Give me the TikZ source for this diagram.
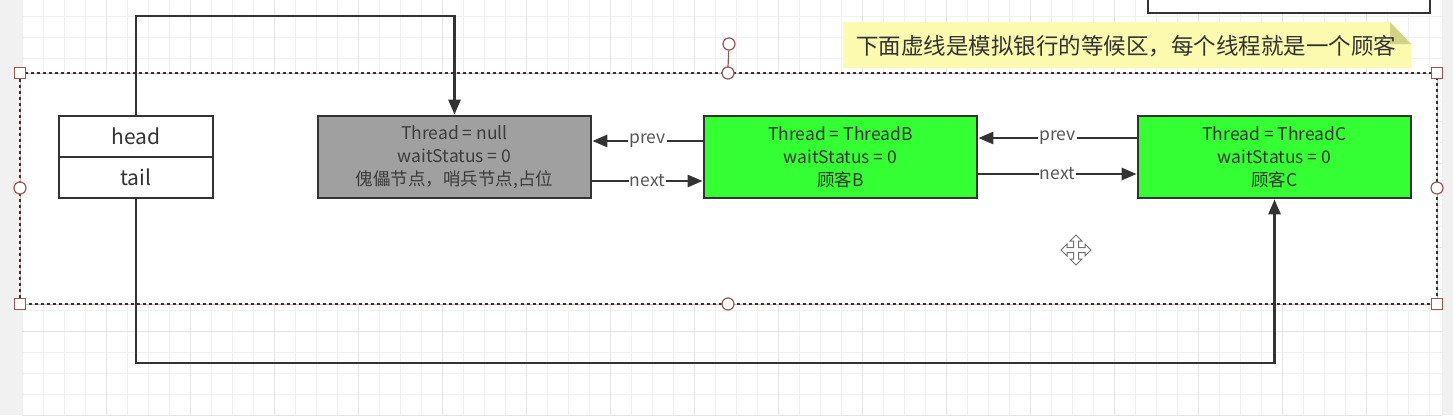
\documentclass[tikz,border=0pt]{standalone}
\usepackage{fontspec}
\setmainfont{Noto Sans CJK SC}
\usetikzlibrary{arrows.meta}

\definecolor{ink}{HTML}{333333}
\definecolor{dummygray}{HTML}{A0A0A0}
\definecolor{dummytext}{HTML}{3C3C3C}
\definecolor{custgreen}{HTML}{33FF33}
\definecolor{lblgray}{HTML}{555555}
\definecolor{handle}{HTML}{9B5555}
\definecolor{notefill}{HTML}{FBFAAF}
\definecolor{notefold}{HTML}{D3D385}
\definecolor{sidegray}{HTML}{F1F1F1}
\definecolor{gridminor}{HTML}{F0F0F0}
\definecolor{gridmajor}{HTML}{E4E4E4}

\begin{document}
\begin{tikzpicture}[x=1pt, y=-1pt,
		box/.style = {rectangle, draw=ink, fill=white, line width=2.8pt, minimum width=154pt, minimum height=41pt, inner sep=0pt, text=ink, font=\fontsize{21}{21}\selectfont},
		qnode/.style = {rectangle, draw=ink, line width=2.8pt, minimum width=273pt, minimum height=82pt, inner sep=0pt, align=center, font=\fontsize{17.5}{23}\selectfont},
		dummy/.style = {qnode, fill=dummygray, text=dummytext},
		cust/.style = {qnode, fill=custgreen, text=ink},
		link/.style = {-{Triangle[length=15pt, width=12pt]}, draw=ink, line width=2.8pt},
		lbl/.style = {fill=white, inner sep=1pt, text=lblgray, font=\fontsize{17.5}{17.5}\selectfont},
		sqh/.style = {rectangle, draw=handle, fill=white, line width=1.2pt, minimum size=11pt, inner sep=0pt},
		cih/.style = {circle, draw=handle, fill=white, line width=1.2pt, minimum size=12pt, inner sep=0pt},
		]
		
		%Canvas
		\useasboundingbox (0,0) rectangle (1453,415);
		\fill[white] (0,0) rectangle (1453,415);
		\fill[sidegray] (0,0) rectangle (22,415);
		\fill[sidegray] (1442,0) rectangle (1453,415);
		\begin{scope}
			\clip (22.5,0) rectangle (1442,415);
			\foreach \gx in {0,...,67} \draw[gridminor, line width=1.5pt] ({22.7+21*\gx},0) -- ({22.7+21*\gx},415);
			\foreach \gy in {0,...,20} \draw[gridminor, line width=1.5pt] (0,{-4.3+21*\gy}) -- (1453,{-4.3+21*\gy});
			\foreach \gx in {0,...,17} \draw[gridmajor, line width=1.5pt] ({22.7+84*\gx},0) -- ({22.7+84*\gx},415);
			\foreach \gy in {0,...,5} \draw[gridmajor, line width=1.5pt] (0,{-4.3+84*\gy}) -- (1453,{-4.3+84*\gy});
		\end{scope}
		
		%Waiting area
		\fill[white] (20,73) rectangle (1437,304);
		\draw[handle!45, line width=0.8pt] (20,73) rectangle (1437,304);
		\draw[ink, line width=2.6pt, dash pattern=on 2.6pt off 3.4pt] (20,73) rectangle (1437,304);
		\node[cih]	(rot)	at	(729,44)	{};
		\draw[handle, line width=1.2pt] (rot) -- (728,67);
		\node[sqh]	at	(20,73)		{};
		\node[sqh]	at	(1437,73)	{};
		\node[sqh]	at	(20,304)	{};
		\node[sqh]	at	(1437,304)	{};
		\node[cih]	at	(728,73)	{};
		\node[cih]	at	(728,304)	{};
		\node[cih]	at	(20,188)	{};
		\node[cih]	at	(1437,188)	{};
		
		%Other shapes
		\draw[ink, fill=white, line width=2.8pt] (1148,-5) rectangle (1430,13);
		\fill[notefill] (843,22) -- (1390,22) -- (1411,44) -- (1411,68) -- (843,68) -- cycle;
		\fill[notefold] (1390,22) -- (1411,44) -- (1390,44) -- cycle;
		\node[text=ink, font=\fontsize{22.5}{22.5}\selectfont]	(note)	at	(1126,46)	{下面虚线是模拟银行的等候区，每个线程就是一个顾客};
		\draw[ink!70, line width=1pt, shift={(1076,250)}]
			(2.5,-9) -- (6,-9) -- (0,-15) -- (-6,-9) -- (-2.5,-9) -- (-2.5,-2.5) -- (-9,-2.5) -- (-9,-6) -- (-15,0) -- (-9,6) -- (-9,2.5) -- (-2.5,2.5)
			-- (-2.5,9) -- (-6,9) -- (0,15) -- (6,9) -- (2.5,9) -- (2.5,2.5) -- (9,2.5) -- (9,6) -- (15,0) -- (9,-6) -- (9,-2.5) -- (2.5,-2.5) -- cycle;
		
		%Nodes
		\node[box]	(head)	at	(136,136.5)	{head};
		\node[box]	(tail)	at	(136,177.5)	{tail};
		\node[dummy]	(dummy)	at	(454.5,157)	{Thread = null\\waitStatus = 0\\傀儡节点，哨兵节点,占位};
		\node[cust]	(nodeB)	at	(840.5,157)	{Thread = ThreadB\\waitStatus = 0\\顾客B};
		\node[cust]	(nodeC)	at	(1274.5,157)	{Thread = ThreadC\\waitStatus = 0\\顾客C};
		\coordinate	(top)	at	(300,16);
		\coordinate	(bot)	at	(700,363);
		
		%Lines
		\draw[link]	(head.north)	|-	(top)	-|	(dummy.north);
		\draw[link]	(tail.south)	|-	(bot)	-|	(nodeC.south);
		\draw[link]	([yshift=16pt]nodeB.west)	--	node[lbl]	{prev}	([yshift=16pt]dummy.east);
		\draw[link]	([yshift=-24pt]dummy.east)	--	node[lbl]	{next}	([yshift=-24pt]nodeB.west);
		\draw[link]	([yshift=19pt]nodeC.west)	--	node[lbl]	{prev}	([yshift=19pt]nodeB.east);
		\draw[link]	([yshift=-17pt]nodeB.east)	--	node[lbl]	{next}	([yshift=-17pt]nodeC.west);
		
	\end{tikzpicture}
\end{document}
